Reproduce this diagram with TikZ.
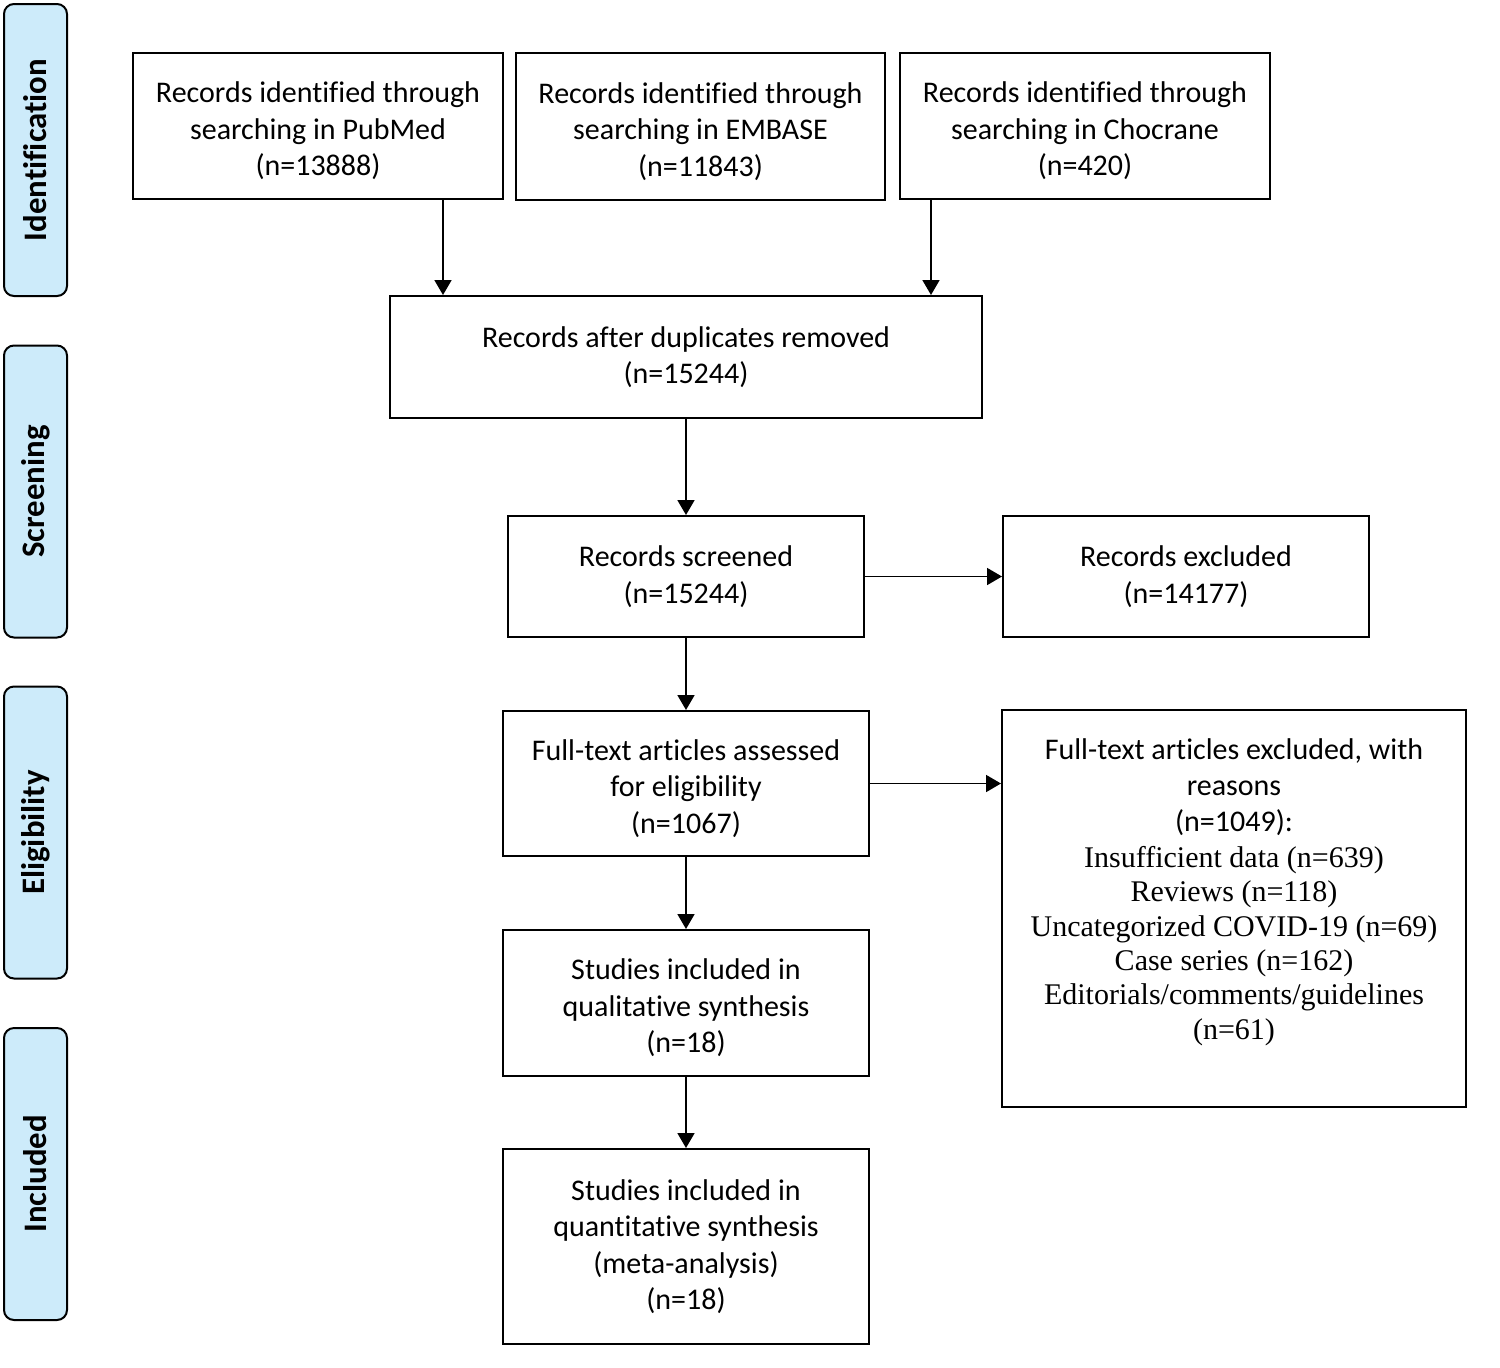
\documentclass[tikz,border=0pt]{standalone}
\usepackage{fontspec}
\setmainfont[Ligatures=CommonOff]{Carlito}
\newfontfamily\serifrm{Liberation Serif}
\usetikzlibrary{arrows.meta}
\definecolor{sidefill}{RGB}{205,235,250}
\newcommand{\tallfirst}{\rule{0pt}{15.5pt}}
\tikzset{
  box/.style={draw, line width=1pt, align=center, inner sep=0pt, font=\fontsize{15}{18.25}\selectfont},
  side/.style={draw, line width=1pt, rounded corners=5pt, fill=sidefill, minimum width=31.5pt, minimum height=146pt, inner sep=0pt},
  sidetext/.style={rotate=90, font=\bfseries\fontsize{16.4}{19}\selectfont},
  arr/.style={line width=0.9pt, -{Triangle[length=7.5pt,width=8.5pt]}}
}
\begin{document}
\begin{tikzpicture}[x=0.5pt,y=-0.5pt]
\useasboundingbox (0,0) rectangle (1500,1367);
% side labels
\node[side] (sid) at (35.5,150) {};
\node[sidetext] (sidt) at (sid.center) {Identification};
\node[side] (ssc) at (35.5,491.5) {};
\node[sidetext] (ssct) at (ssc.center) {Screening};
\node[side] (sel) at (35.5,832.5) {};
\node[sidetext] (selt) at (sel.center) {Eligibility};
\node[side] (sin) at (35.5,1174) {};
\node[sidetext] (sint) at (sin.center) {Included};
% boxes
\node[box, minimum width=185pt, minimum height=73pt] (pub) at (318,126) {\tallfirst Records identified through\\searching in PubMed\\(n=13888)};
\node[box, minimum width=184.5pt, minimum height=73.5pt] (emb) at (700.5,126.5) {\tallfirst Records identified through\\searching in EMBASE\\(n=11843)};
\node[box, minimum width=185pt, minimum height=73pt] (cho) at (1085,126) {\tallfirst Records identified through\\searching in Chocrane\\(n=420)};
\node[box, minimum width=296pt, minimum height=61pt] (dup) at (686,357) {Records after duplicates removed\\(n=15244)};
\node[box, minimum width=178pt, minimum height=60.5pt] (scr) at (686,576.5) {Records screened\\(n=15244)};
\node[box, minimum width=183pt, minimum height=60.5pt] (exc) at (1186,576.5) {Records excluded\\(n=14177)};
\node[box, minimum width=183pt, minimum height=72.5pt] (ft) at (686,783.5) {\tallfirst Full-text articles assessed\\for eligibility\\(n=1067)};
\node[box, minimum width=232pt, minimum height=198.5pt] (fte) at (1234,908.5) {};
\node[align=center, anchor=north, inner sep=0pt, font=\fontsize{15}{17.2}\selectfont] (ftet) at (1234,738) {Full-text articles excluded, with\\[0.8pt]reasons\\[0.8pt](n=1049):\\[0.8pt]{\serifrm Insufficient data (n=639)}\\{\serifrm Reviews (n=118)}\\{\serifrm Uncategorized COVID-19 (n=69)}\\{\serifrm Case series (n=162)}\\{\serifrm Editorials/comments/guidelines}\\{\serifrm (n=61)}};
\node[box, minimum width=183pt, minimum height=73pt] (qual) at (686,1003) {\tallfirst Studies included in\\qualitative synthesis\\(n=18)};
\node[box, minimum width=183pt, minimum height=97.5pt] (quant) at (686,1246.5) {Studies included in\\quantitative synthesis\\(meta-analysis)\\(n=18)};
% arrows
\draw[arr] ([xshift=62.5pt]pub.south) -- ([xshift=62.5pt]pub.south |- dup.north);
\draw[arr] ([xshift=-77pt]cho.south) -- ([xshift=-77pt]cho.south |- dup.north);
\draw[arr] (dup.south) -- (scr.north);
\draw[arr] (scr.east) -- (scr.east -| exc.west);
\draw[arr] (scr.south) -- (ft.north);
\draw[arr] (ft.east) -- (ft.east -| fte.west);
\draw[arr] (ft.south) -- (qual.north);
\draw[arr] (qual.south) -- (quant.north);
\end{tikzpicture}
\end{document}
